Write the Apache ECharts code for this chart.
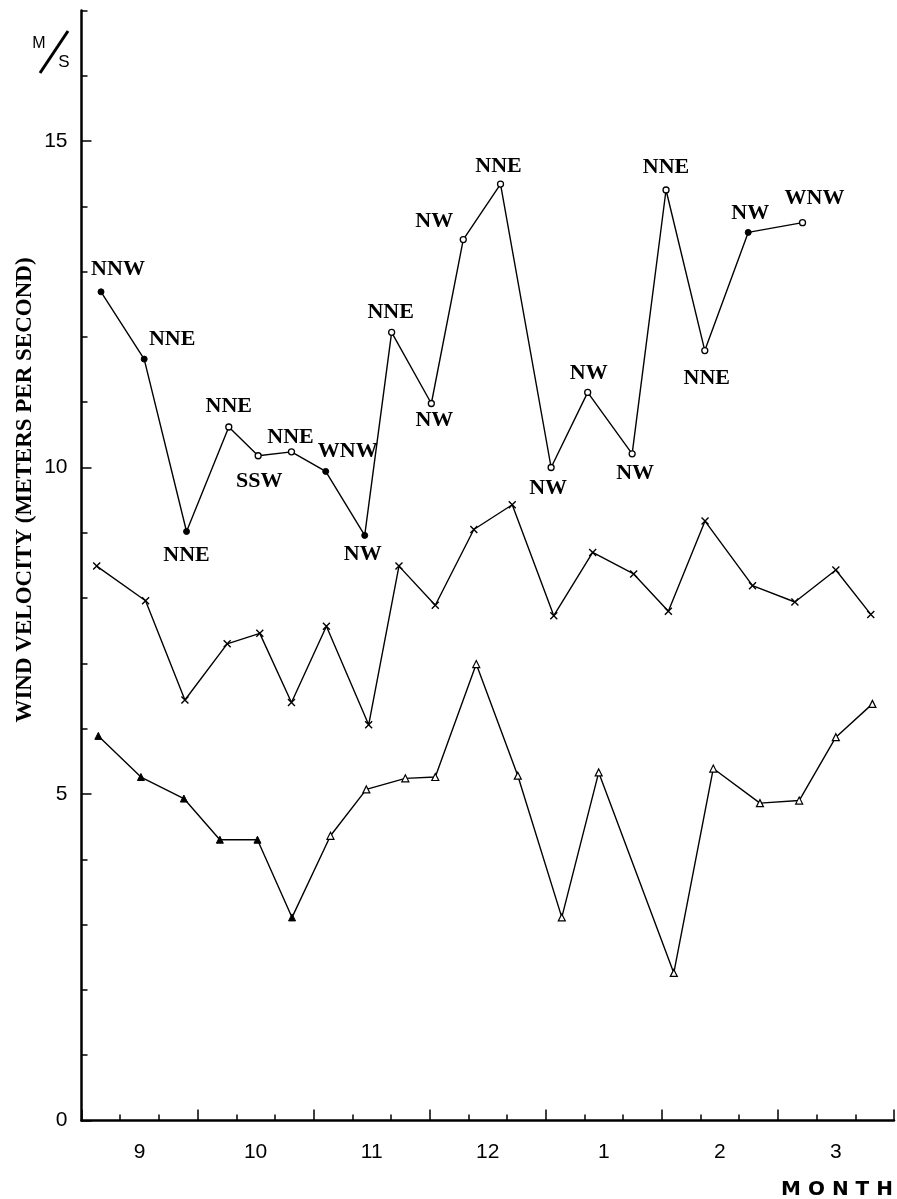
<!DOCTYPE html>
<html><head><meta charset="utf-8">
<script src="https://cdn.jsdelivr.net/npm/echarts@6/dist/echarts.min.js"></script>
<style>html,body{margin:0;padding:0;background:#fff}#chart{width:897px;height:1199px}</style>
</head><body><div id="chart"></div>
<script>
// ---------------- DATA ----------------
// x positions in months counted from the start of September (0 = Sep 1, 7 = Apr 1)
const monthLabels = ['9', '10', '11', '12', '1', '2', '3'];
const yTickLabels = ['0', '5', '10', '15'];

// Upper series: wind velocity (m/s) with prevailing wind direction
const topX = [0.168, 0.540, 0.905, 1.269, 1.522, 1.809, 2.104, 2.440, 2.672, 3.014,
              3.289, 3.610, 4.046, 4.361, 4.744, 5.036, 5.370, 5.744, 6.212];
const topV = [12.69, 11.66, 9.02, 10.62, 10.18, 10.24, 9.94, 8.96, 12.07, 10.98,
              13.49, 14.34, 10.00, 11.15, 10.21, 14.25, 11.79, 13.60, 13.75];
const topDir = ['NNW', 'NNE', 'NNE', 'NNE', 'SSW', 'NNE', 'WNW', 'NW', 'NNE', 'NW',
                'NW', 'NNE', 'NW', 'NW', 'NW', 'NNE', 'NNE', 'NW', 'WNW'];

// Middle series (x markers)
const midX = [0.131, 0.552, 0.891, 1.255, 1.536, 1.809, 2.110, 2.474, 2.735, 3.048, 3.380,
              3.711, 4.069, 4.404, 4.757, 5.056, 5.372, 5.781, 6.146, 6.499, 6.800];
const midV = [8.49, 7.96, 6.44, 7.30, 7.46, 6.40, 7.57, 6.06, 8.49, 7.89, 9.05,
              9.43, 7.73, 8.70, 8.37, 7.80, 9.18, 8.19, 7.94, 8.43, 7.75];

// Lower series (triangles)
const lowX = [0.145, 0.512, 0.882, 1.192, 1.516, 1.814, 2.145, 2.454, 2.790, 3.048,
              3.401, 3.759, 4.138, 4.456, 5.103, 5.443, 5.845, 6.183, 6.499, 6.814];
const lowV = [5.89, 5.26, 4.93, 4.30, 4.30, 3.11, 4.36, 5.07, 5.24, 5.26,
              6.99, 5.28, 3.11, 5.33, 2.26, 5.39, 4.86, 4.90, 5.87, 6.38];

// ---------------- LAYOUT / STYLE ----------------
// label centre offsets (px) relative to each upper-series point
const topLabelOffsets = [[17,-23],[28,-20],[0,24],[0,-21],[1,26],[-1,-15],[22,-20],[-2,19],
  [-1,-20],[3,17],[-29,-18],[-2,-18],[-3,21],[1,-19],[3,20],[0,-23],[2,28],[2,-19],[12,-24]];
const topFilledIdx = [0, 1, 2, 6, 7, 17];
const lowFilledCount = 6;

const GRID = {left: 81.5, right: 2, top: 10.4, bottom: 78.5};
const YMAX = 17;
const pxPerUnit = (1199 - GRID.top - GRID.bottom) / YMAX;
const grid2Top = 1199 - GRID.bottom - 15 * pxPerUnit;

const serif = '"Liberation Serif", "Times New Roman", serif';
const sans = '"Liberation Sans", Arial, sans-serif';

const topData = topX.map((x, i) => ({
  value: [x, topV[i]],
  itemStyle: topFilledIdx.includes(i)
    ? {color: '#000', borderColor: '#000', borderWidth: 1}
    : {color: '#fff', borderColor: '#000', borderWidth: 1.3},
  label: {show: true, position: 'inside', offset: topLabelOffsets[i], formatter: topDir[i]}
}));
const midData = midX.map((x, i) => [x, midV[i]]);
const lowData = lowX.map((x, i) => ({
  value: [x, lowV[i]],
  itemStyle: i < lowFilledCount
    ? {color: '#000', borderColor: '#000', borderWidth: 1}
    : {color: '#fff', borderColor: '#000', borderWidth: 1.2}
}));

const chart = echarts.init(document.getElementById('chart'), null, {renderer: 'canvas'});
chart.setOption({
  animation: false,
  backgroundColor: '#fff',
  grid: [
    {left: GRID.left, right: GRID.right, top: GRID.top, bottom: GRID.bottom},
    {left: GRID.left, right: GRID.right, top: grid2Top, bottom: GRID.bottom}
  ],
  xAxis: [
    { type: 'value', gridIndex: 0, min: 0, max: 7, interval: 1,
      axisLine: {show: true, onZero: false, lineStyle: {color: '#000', width: 2.5}},
      axisTick: {show: true, inside: true, length: 11, lineStyle: {color: '#000', width: 1.5}},
      minorTick: {show: true, splitNumber: 3, length: 6, lineStyle: {color: '#000', width: 1.5}},
      axisLabel: {show: false}, splitLine: {show: false} },
    { type: 'value', gridIndex: 0, position: 'bottom', min: 0, max: 7, interval: 0.5,
      axisLine: {show: false}, axisTick: {show: false}, splitLine: {show: false},
      axisLabel: { show: true, margin: 21, fontSize: 21, fontFamily: sans, color: '#000',
        formatter: v => (Math.round(v * 2) % 2 === 1) ? monthLabels[Math.floor(v)] : '' } },
    { type: 'value', gridIndex: 1, min: 0, max: 7, show: false }
  ],
  yAxis: [
    { type: 'value', gridIndex: 0, min: 0, max: YMAX, interval: 1,
      axisLine: {show: true, onZero: false, lineStyle: {color: '#000', width: 2.5}},
      axisTick: {show: true, inside: true, length: 6, lineStyle: {color: '#000', width: 1.5}},
      axisLabel: {show: false}, splitLine: {show: false} },
    { type: 'value', gridIndex: 1, min: 0, max: 15, interval: 5,
      axisLine: {show: false},
      axisTick: {show: true, inside: true, length: 10, lineStyle: {color: '#000', width: 1.5}},
      axisLabel: { show: true, margin: 14, fontSize: 21, fontFamily: sans, color: '#000',
        formatter: v => yTickLabels[Math.round(v / 5)] },
      splitLine: {show: false} }
  ],
  series: [
    { type: 'line', name: 'upper', xAxisIndex: 0, yAxisIndex: 0, data: topData,
      symbol: 'circle', symbolSize: 6, z: 5,
      lineStyle: {color: '#000', width: 1.4},
      label: {color: '#000', fontFamily: serif, fontWeight: 'bold', fontSize: 22} },
    { type: 'line', name: 'middle', xAxisIndex: 0, yAxisIndex: 0, data: midData,
      symbol: 'path://M0 0L10 10M10 0L0 10', symbolSize: 7,
      itemStyle: {color: '#000', borderColor: '#000', borderWidth: 1.4},
      lineStyle: {color: '#000', width: 1.4} },
    { type: 'line', name: 'lower', xAxisIndex: 0, yAxisIndex: 0, data: lowData,
      symbol: 'triangle', symbolSize: 7,
      lineStyle: {color: '#000', width: 1.4} }
  ],
  graphic: [
    { type: 'text', x: 25, y: 490, rotation: Math.PI / 2,
      style: { text: 'WIND VELOCITY (METERS PER SECOND)', fill: '#000',
        font: 'bold 23px ' + serif, textAlign: 'center', verticalAlign: 'middle' } },
    { type: 'text', x: 39, y: 44,
      style: { text: 'M', fill: '#000', font: '16px ' + sans, textAlign: 'center', verticalAlign: 'middle' } },
    { type: 'line', shape: {x1: 40, y1: 73, x2: 68, y2: 31}, style: {stroke: '#000', lineWidth: 3} },
    { type: 'text', x: 64, y: 62,
      style: { text: 'S', fill: '#000', font: '17px ' + sans, textAlign: 'center', verticalAlign: 'middle' } },
    { type: 'text', x: 837, y: 1190,
      style: { text: 'M O N T H', fill: '#000', font: 'bold 20px "DejaVu Sans", sans-serif',
        textAlign: 'center', verticalAlign: 'middle' } }
  ]
});
</script>
</body></html>
